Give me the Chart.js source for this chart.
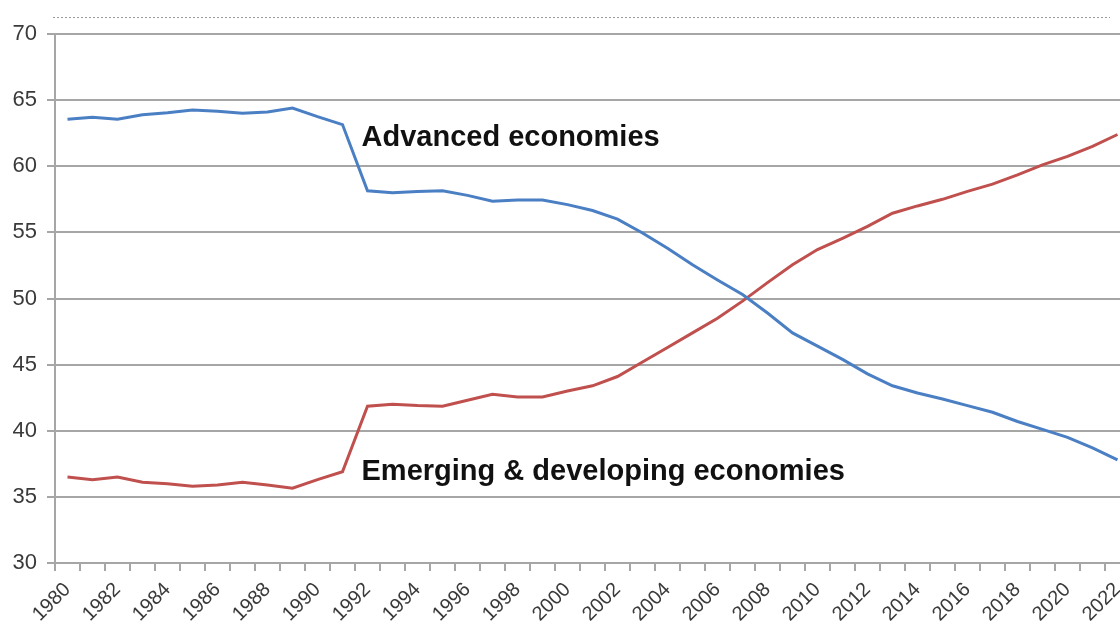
<!DOCTYPE html>
<html>
<head>
<meta charset="utf-8">
<script src="https://cdn.jsdelivr.net/npm/chart.js@4/dist/chart.umd.min.js"></script>
<style>
  html, body { margin: 0; padding: 0; background: #fff; overflow: hidden; }
  .chart-box { width: 1132px; height: 626px; position: relative; }
</style>
</head>
<body>
<div class="chart-box"><canvas id="chart"></canvas></div>
<script>
// years on the category axis
const years = [];
for (let y = 1980; y <= 2022; y++) years.push(String(y));

// share of world GDP
const advanced = [
  63.55, 63.7, 63.55, 63.9, 64.05, 64.25, 64.15, 64.0, 64.1, 64.4,
  63.75, 63.15, 58.15, 58.0, 58.1, 58.15, 57.8, 57.35, 57.45, 57.45,
  57.1, 56.65, 56.0, 54.95, 53.8, 52.55, 51.4, 50.3, 48.9, 47.4,
  46.4, 45.4, 44.3, 43.4, 42.85, 42.4, 41.9, 41.4, 40.7, 40.1,
  39.5, 38.7, 37.8
];
const emerging = [
  36.5, 36.3, 36.5, 36.1, 36.0, 35.8, 35.9, 36.1, 35.9, 35.65,
  36.3, 36.9, 41.85, 42.0, 41.9, 41.85, 42.3, 42.75, 42.55, 42.55,
  43.0, 43.4, 44.1, 45.2, 46.3, 47.4, 48.5, 49.8, 51.2, 52.55,
  53.7, 54.55, 55.45, 56.45, 57.0, 57.5, 58.1, 58.65, 59.35, 60.1,
  60.75, 61.5, 62.4
];

const yTicks = [30, 35, 40, 45, 50, 55, 60, 65, 70];

const gridGray = '#a6a6a6';
const textGray = '#3a3a3a';

// series names written inside the plot, plus the dotted rule above it
const annotations = {
  id: 'annotations',
  afterDraw(chart) {
    const { ctx, chartArea, scales } = chart;
    ctx.save();
    ctx.strokeStyle = '#9a9a9a';
    ctx.lineWidth = 1;
    ctx.setLineDash([2, 2]);
    ctx.beginPath();
    ctx.moveTo(chartArea.left - 2, 17.5);
    ctx.lineTo(1110, 17.5);
    ctx.stroke();
    ctx.setLineDash([]);

    ctx.fillStyle = '#111';
    ctx.font = 'bold 29px "Liberation Sans", Arial, sans-serif';
    ctx.textAlign = 'left';
    ctx.textBaseline = 'middle';
    const x0 = scales.x.getPixelForValue(12) - 6;
    ctx.fillText('Advanced economies', x0, scales.y.getPixelForValue(62.1));
    ctx.fillText('Emerging & developing economies', x0, scales.y.getPixelForValue(36.9));
    ctx.restore();
  }
};

new Chart(document.getElementById('chart'), {
  type: 'line',
  data: {
    labels: years,
    datasets: [
      {
        label: 'Advanced economies',
        data: advanced,
        borderColor: '#4a7fc4',
        borderWidth: 3,
        pointRadius: 0,
        tension: 0
      },
      {
        label: 'Emerging & developing economies',
        data: emerging,
        borderColor: '#c0504d',
        borderWidth: 3,
        pointRadius: 0,
        tension: 0
      }
    ]
  },
  options: {
    responsive: true,
    maintainAspectRatio: false,
    animation: false,
    layout: { padding: { top: 34, left: 0, right: 2, bottom: 0 } },
    plugins: {
      legend: { display: false },
      tooltip: { enabled: false }
    },
    scales: {
      x: {
        offset: true,
        grid: {
          offset: true,
          drawOnChartArea: false,
          color: gridGray,
          lineWidth: 2,
          tickLength: 8
        },
        border: { color: gridGray, width: 2 },
        ticks: {
          autoSkip: false,
          maxRotation: 45,
          minRotation: 45,
          padding: 7,
          color: textGray,
          font: { family: '"Liberation Sans", Arial, sans-serif', size: 20 },
          callback: (v, i) => (i % 2 === 0 ? years[i] : '')
        },
        afterFit(scale) {
          scale.height = 63;
          scale.paddingLeft = 0;
          scale.paddingRight = 0;
        }
      },
      y: {
        min: 30,
        max: 70,
        afterBuildTicks(scale) { scale.ticks = yTicks.map(v => ({ value: v })); },
        grid: {
          color: gridGray,
          lineWidth: 2,
          tickLength: 8
        },
        border: { color: gridGray, width: 2 },
        ticks: {
          padding: 10,
          color: textGray,
          font: { family: '"Liberation Sans", Arial, sans-serif', size: 22 }
        },
        afterFit(scale) { scale.width = 55; }
      }
    }
  },
  plugins: [annotations]
});
</script>
</body>
</html>
